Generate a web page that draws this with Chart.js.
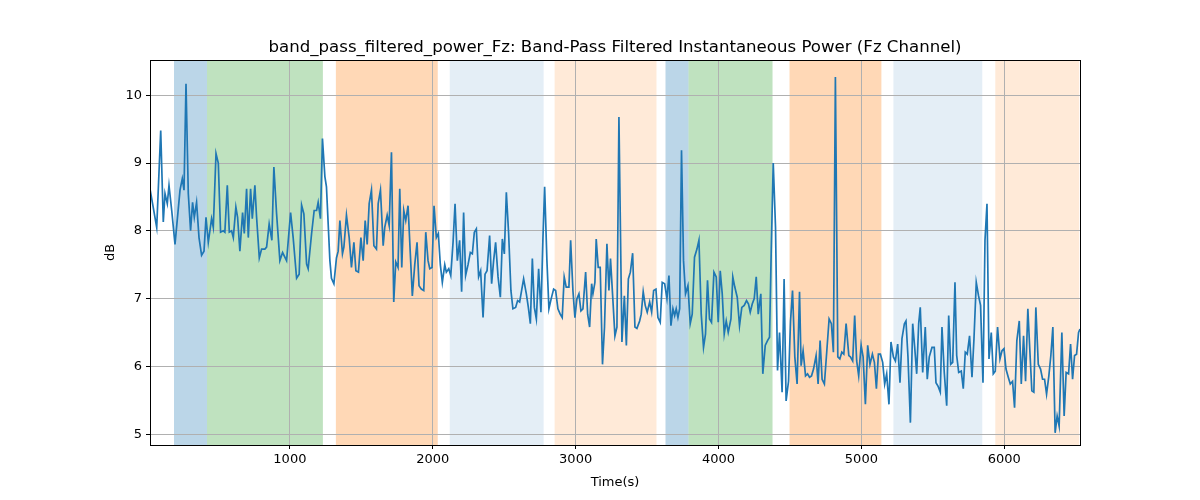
<!DOCTYPE html>
<html><head><meta charset="utf-8">
<script src="https://cdn.jsdelivr.net/npm/chart.js@4.4.0/dist/chart.umd.min.js"></script>
<style>html,body{margin:0;padding:0;background:#fff}#w{width:1200px;height:500px}</style>
</head><body><div id="w"><canvas id="c" width="1200" height="500"></canvas></div>
<script>
const times = [21,68,96,114,126,142,154,173,196,231,247,259,273,289,305,319,331,347,364,382,399,413,429,452,464,483,499,515,534,545,562,576,592,604,622,634,650,669,681,697,709,725,737,755,767,786,802,825,837,855,874,888,907,930,949,977,1005,1023,1047,1065,1082,1098,1117,1128,1152,1170,1187,1198,1214,1228,1245,1256,1280,1291,1308,1326,1338,1350,1368,1378,1396,1415,1431,1448,1462,1480,1497,1513,1527,1541,1555,1571,1588,1606,1618,1634,1653,1664,1681,1695,
1711,1727,1741,1757,1769,1783,1797,1811,1827,1843,1857,1874,1890,1904,1920,1937,1951,1967,1979,1995,2009,2025,2039,2053,2067,2084,2095,2112,2126,2142,2156,2172,2188,2202,2216,2230,2247,2263,2277,2291,2305,2321,2335,2352,2366,2380,2398,2412,2426,2440,2457,2473,2487,2501,2515,2531,2547,2561,2580,2594,2608,2622,2636,2655,2669,2683,2697,2711,2725,2741,2757,2771,2783,2799,2813,2829,2846,2860,2876,2892,2906,2920,2934,2953,2965,2981,2995,3009,3023,3037,3051,3070,3084,3098,3112,3121,3135,3144,3158,3172,3188,3202,3219,3233,3244,3261,3275,3289,3303,
3324,3341,3355,3369,3383,3399,3415,3429,3448,3459,3473,3487,3501,3518,3532,3546,3562,3576,3592,3606,3623,3639,3653,3667,3681,3693,3704,3716,3728,3741,3755,3769,3786,3802,3816,3832,3849,3863,3879,3895,3909,3923,3937,3951,3968,3984,3998,4012,4026,4040,4054,4068,4087,4100,4114,4131,4147,4163,4180,4196,4210,4222,4236,4250,4264,4278,4296,4310,4327,4343,4357,4369,4383,4399,4413,4427,4445,4459,4473,4490,4504,4518,4534,4550,4567,4578,4592,4609,4623,4637,4651,4665,4683,4697,4711,4725,4741,4758,4774,4790,4804,4818,4835,4849,4863,4877,4893,4912,
4923,4939,4953,4967,4981,4998,5012,5028,5044,5060,5077,5091,5105,5119,5133,5149,5163,5177,5193,5207,5224,5238,5254,5270,5284,5301,5312,5326,5343,5359,5373,5387,5401,5412,5429,5447,5461,5475,5494,5510,5522,5536,5552,5564,5580,5597,5611,5625,5639,5655,5667,5681,5699,5713,5727,5741,5757,5774,5788,5804,5820,5834,5851,5865,5879,5893,5909,5923,5937,5953,5970,5984,5998,6012,6028,6042,6058,6072,6088,6105,6119,6135,6149,6165,6179,6193,6207,6221,6238,6254,6268,6282,6296,6312,6326,6340,6356,6370,6384,6403,6419,6433,6450,6464,6478,6492,6506,6520,6530];
const values = [8.62,8.05,9.48,8.13,8.55,8.4,8.67,8.3,7.8,8.6,8.77,8.6,10.17,8.55,8.0,8.42,8.2,8.42,7.9,7.64,7.7,8.2,7.83,8.18,8.05,9.14,9.0,7.98,8.0,7.98,8.67,7.98,8.0,7.9,8.35,8.2,7.7,8.27,7.96,8.62,7.9,8.62,8.18,8.67,8.2,7.6,7.73,7.73,7.76,8.1,7.86,8.94,8.25,7.56,7.68,7.56,8.27,7.9,7.3,7.36,8.38,8.25,7.51,7.44,7.96,8.3,8.3,8.42,8.18,9.36,8.8,8.65,7.56,7.3,7.22,7.6,7.7,8.15,7.66,7.76,8.23,7.9,7.46,7.83,7.41,7.39,7.9,7.56,8.15,7.8,8.4,8.6,7.78,7.73,8.4,8.6,7.78,8.05,8.23,8.08,
9.16,6.95,7.54,7.46,8.62,7.46,8.3,8.15,8.37,7.66,7.04,7.5,7.83,7.19,7.14,7.12,7.98,7.56,7.44,7.46,8.37,7.9,7.96,7.5,7.24,7.5,7.39,7.44,7.34,7.83,8.4,7.56,7.86,7.1,8.27,7.34,7.5,7.68,7.66,7.98,8.03,7.32,7.41,6.72,7.36,7.41,7.93,7.22,7.56,7.83,7.32,7.02,7.88,7.66,8.57,7.96,7.12,6.85,6.87,6.97,6.95,7.12,7.29,7.07,6.87,6.63,7.59,6.87,6.7,7.44,6.8,7.88,8.65,7.56,6.85,7.0,7.14,7.12,6.85,6.77,6.72,7.32,7.17,7.17,7.86,7.12,6.72,7.0,7.07,6.82,6.85,7.39,6.77,6.58,7.22,7.07,7.24,7.88,7.46,7.46,6.03,6.58,7.81,7.12,7.59,6.97,6.45,6.58,9.68,
6.36,7.04,6.31,7.29,7.39,7.67,6.58,6.56,6.67,6.77,7.1,6.9,6.8,6.95,6.8,7.12,7.14,6.72,6.65,7.24,7.22,7.0,7.34,6.6,6.85,6.75,6.85,6.72,6.85,9.19,7.56,7.07,7.19,6.63,6.77,7.61,7.73,7.86,6.77,6.28,6.48,7.27,6.7,6.65,7.39,7.32,6.65,7.41,7.07,6.48,6.67,6.5,6.7,7.32,7.17,7.02,6.6,6.87,6.9,6.97,6.92,6.8,6.92,7.0,7.32,6.77,7.07,5.89,6.31,6.38,6.43,7.71,9.0,8.05,5.94,6.5,5.62,7.29,5.49,5.78,6.67,7.12,6.14,5.74,7.1,6.01,6.23,5.86,5.89,5.84,5.86,5.96,6.16,5.74,6.38,5.81,5.74,6.23,6.7,6.63,6.21,10.27,6.14,6.11,6.21,6.18,6.63,6.16,
6.14,6.08,6.75,6.08,5.86,6.31,6.14,5.44,6.31,6.03,6.18,6.06,5.67,6.18,6.18,6.06,5.74,5.89,5.44,6.36,6.14,6.08,6.33,5.76,6.41,6.63,6.67,6.14,5.17,6.63,6.28,5.89,6.63,6.87,5.91,6.58,5.81,6.14,6.28,6.28,5.76,5.71,5.62,6.58,5.91,5.42,6.75,6.03,6.06,7.24,6.16,5.91,5.93,5.67,6.21,6.18,6.45,5.84,6.41,7.24,7.04,6.9,5.76,7.86,8.4,6.11,6.5,5.89,5.93,6.58,6.11,6.23,6.26,5.96,5.84,5.74,5.78,5.39,6.38,6.67,5.74,6.45,5.78,6.85,6.23,5.64,5.62,6.87,6.03,5.96,5.81,5.81,5.59,5.86,6.16,6.58,5.02,5.27,5.12,6.5,5.27,5.91,5.89,6.33,5.81,6.16,6.18,6.5,6.55];
const bandStart = [189,420,1322,2119,2853,3629,3790,4497,5224,5937];
const bandEnd   = [420,1231,2035,2776,3566,3790,4378,5140,5846,6524];
const bandColor = ['rgba(31,119,180,0.3)','rgba(44,160,44,0.3)','rgba(255,127,14,0.3)','rgba(31,119,180,0.12)','rgba(255,127,14,0.16)','rgba(31,119,180,0.3)','rgba(44,160,44,0.3)','rgba(255,127,14,0.3)','rgba(31,119,180,0.12)','rgba(255,127,14,0.16)'];
const xTicks = [1000,2000,3000,4000,5000,6000];
const yTicks = [5,6,7,8,9,10];
const titleText = 'band_pass_filtered_power_Fz: Band-Pass Filtered Instantaneous Power (Fz Channel)';
const xLabel = 'Time(s)', yLabel = 'dB';

const bands = {id:'bands', beforeDraw(ch){
  const {ctx, chartArea:a, scales:{x}} = ch;
  ctx.save();
  for(let i=0;i<bandStart.length;i++){
    const x0=x.getPixelForValue(bandStart[i]), x1=x.getPixelForValue(bandEnd[i]);
    ctx.fillStyle=bandColor[i]; ctx.fillRect(x0,a.top,x1-x0,a.bottom-a.top);
  }
  ctx.restore();
}};
const frame = {id:'frame', afterDraw(ch){
  const {ctx, chartArea:a}=ch; ctx.save(); ctx.strokeStyle='#000'; ctx.lineWidth=1;
  ctx.strokeRect(Math.round(a.left)+0.5,Math.round(a.top)+0.5,Math.round(a.right-a.left),Math.round(a.bottom-a.top));
  const cx=(a.left+a.right)/2, cy=(a.top+a.bottom)/2;
  ctx.fillStyle='#000'; ctx.textAlign='center'; ctx.textBaseline='alphabetic';
  ctx.font='16.6px "DejaVu Sans"'; ctx.fillText(titleText,cx,a.top-8);
  ctx.font='13px "DejaVu Sans"'; ctx.fillText(xLabel,cx,a.bottom+41);
  ctx.translate(a.left-36,cy); ctx.rotate(-Math.PI/2); ctx.fillText(yLabel,0,0);
  ctx.restore();
}};
const font = {family:'DejaVu Sans', size:13};
new Chart(document.getElementById('c'), {
  type:'line',
  data:{datasets:[{data:times.map((t,i)=>({x:t,y:values[i]})), borderColor:'#1f77b4', borderWidth:1.7, pointRadius:0, tension:0}]},
  options:{responsive:false, animation:false, events:[],
    layout:{padding:{left:0,right:120,top:60,bottom:0}},
    plugins:{legend:{display:false}, tooltip:{enabled:false}},
    scales:{
      x:{type:'linear', min:21, max:6530,
        afterBuildTicks(s){s.ticks=xTicks.map(v=>({value:v}));},
        afterFit(s){s.height=55;},
        grid:{color:'#b0b0b0', drawTicks:true, tickLength:4, tickColor:'#000'}, border:{display:false},
        ticks:{color:'#000', font, maxRotation:0, padding:3, callback:v=>String(v)}},
      y:{min:4.84, max:10.52,
        afterBuildTicks(s){s.ticks=yTicks.map(v=>({value:v}));},
        afterFit(s){s.width=150;},
        grid:{color:'#b0b0b0', tickLength:4, tickColor:'#000'}, border:{display:false},
        ticks:{color:'#000', font, padding:4, callback:v=>String(v)}}
    }
  },
  plugins:[bands, frame]
});
</script></body></html>
